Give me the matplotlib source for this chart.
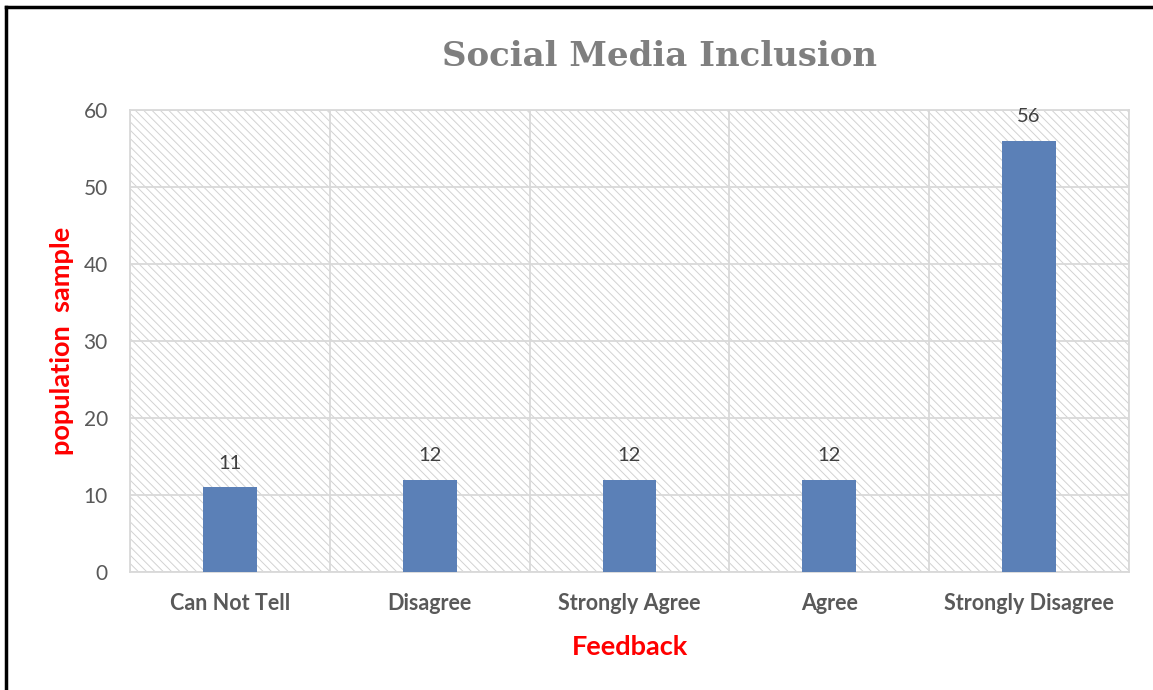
import numpy as np
import matplotlib.pyplot as plt
from matplotlib.patches import Rectangle
from matplotlib.lines import Line2D

# Survey responses
categories = ['Can Not Tell', 'Disagree', 'Strongly Agree', 'Agree', 'Strongly Disagree']
counts = [11, 12, 12, 12, 56]
y_ticks = [0, 10, 20, 30, 40, 50, 60]

plt.rcParams['font.family'] = ['Lato', 'DejaVu Sans']
plt.rcParams['hatch.linewidth'] = 0.7

fig = plt.figure(figsize=(11.53, 6.90), dpi=100)
ax = fig.add_axes([130 / 1153, 118 / 690, 999 / 1153, 462 / 690])

x = np.arange(len(categories))

# Patterned plot area background (hatch takes the edge colour)
ax.add_patch(Rectangle((0, 0), 1, 1, transform=ax.transAxes, facecolor='white',
                       edgecolor='#d2d2d2', linewidth=0, hatch='\\\\\\\\', zorder=0))

bars = ax.bar(x, counts, width=0.27, color='#5b80b7', zorder=3)
for xi, v in zip(x, counts):
    ax.text(xi, v + 2.0, str(v), ha='center', va='bottom', fontsize=14.5,
            color='#404040', zorder=4)

# Grid: horizontal at ticks, vertical between categories
for yv in y_ticks:
    ax.axhline(yv, color='#d9d9d9', lw=1.3, zorder=1)
for xb in np.arange(-0.5, len(categories), 1.0):
    ax.axvline(xb, color='#d9d9d9', lw=1.3, zorder=1)

ax.set_xlim(-0.5, len(categories) - 0.5)
ax.set_ylim(0, 60)
ax.set_yticks(y_ticks)
ax.set_xticks(x)
ax.set_xticklabels(categories, fontsize=15.5, fontweight='bold', color='#595959')
ax.tick_params(axis='y', labelsize=15, labelcolor='#595959', length=0, pad=16)
ax.tick_params(axis='x', length=0, pad=15)
for s in ax.spines.values():
    s.set_color('#d9d9d9')
    s.set_linewidth(1.3)

ax.set_xlabel('Feedback', fontsize=19.5, fontweight='bold', color='red', labelpad=15)
ax.set_ylabel('population  sample', fontsize=19.5, fontweight='bold', color='red', labelpad=7)

fig.text(659 / 1153, 1 - 56 / 690, 'Social Media Inclusion', ha='center', va='center',
         fontsize=24.5, fontweight='bold', color='#7f7f7f', family='DejaVu Serif')

# Frame lines on left and top
fig.add_artist(Line2D([6 / 1153, 6 / 1153], [0, 1 - 7 / 690], color='black', lw=2.5,
                      transform=fig.transFigure))
fig.add_artist(Line2D([6 / 1153, 1], [1 - 7 / 690, 1 - 7 / 690], color='black', lw=2.5,
                      transform=fig.transFigure))

fig.savefig('out.png', dpi=100)
